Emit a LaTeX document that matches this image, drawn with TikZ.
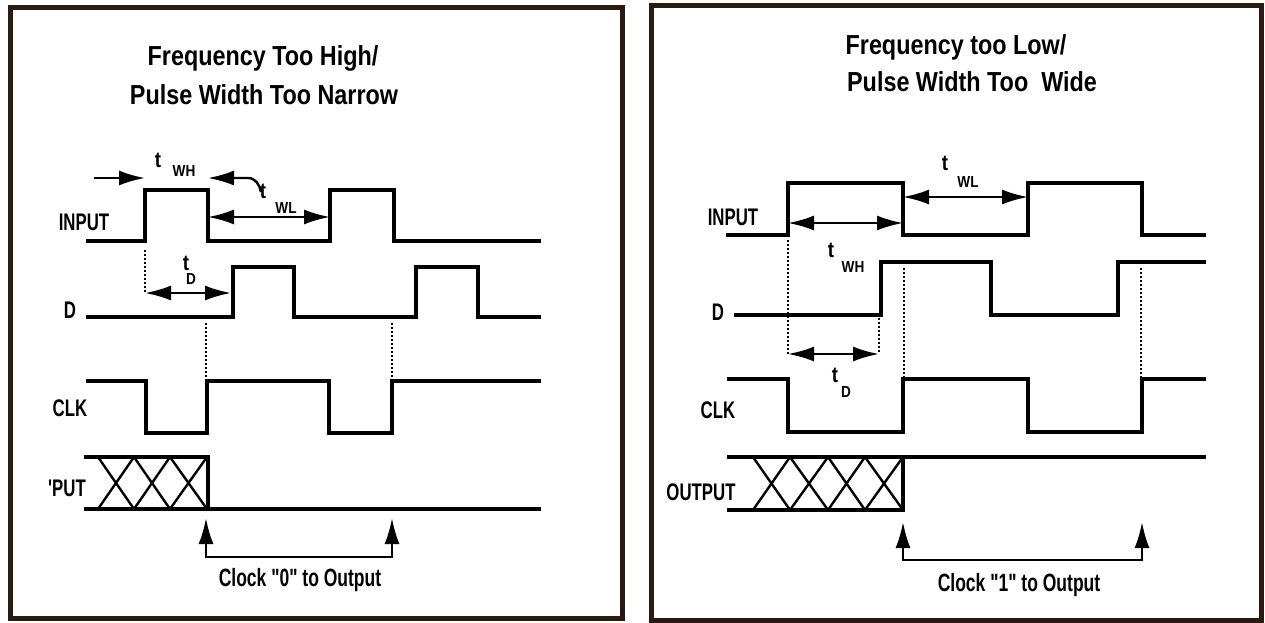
\documentclass[tikz,border=0pt]{standalone}
\usepackage{fontspec}
\usepackage{xcolor}
\usetikzlibrary{arrows.meta}
\newfontfamily\handfont[FakeStretch=0.85]{Liberation Sans}
\newfontfamily\narrowfont[FakeStretch=0.7]{Liberation Sans}
\definecolor{framebrown}{HTML}{2A1A12}
\tikzset{
  panel/.style={draw=framebrown,line width=5pt},
  wave/.style={line width=3.4pt,line join=miter},
  hatch/.style={line width=2.4pt},
  guide/.style={line width=1.6pt,dash pattern=on 1.5pt off 2.5pt},
  dimarrow/.style={line width=2.4pt,{Latex[length=26pt,width=15pt]}-{Latex[length=26pt,width=15pt]}},
  onearrow/.style={line width=2.4pt,-{Latex[length=26pt,width=15pt]}},
  title/.style={font=\handfont\bfseries\fontsize{27.5}{27.5}\selectfont},
  siglabel/.style={font=\narrowfont\bfseries\fontsize{24}{24}\selectfont},
  clocklabel/.style={font=\narrowfont\bfseries\fontsize{25}{25}\selectfont},
  tlabel/.style={font=\handfont\bfseries\fontsize{22}{22}\selectfont,inner sep=0pt},
  sublabel/.style={font=\handfont\bfseries\fontsize{16}{16}\selectfont,inner sep=0pt},
}
\begin{document}
\begin{tikzpicture}[x=1pt,y=-1pt]
  \useasboundingbox (0,0) rectangle (1265,622);
  % left panel: frequency too high
  \draw[panel] (10,7) rectangle (622,618);
  \node[title] (lt1) at (263,58) {Frequency Too High/};
  \node[title] (lt2) at (264,95) {Pulse Width Too Narrow};
  \node[siglabel] (lin) at (84,222) {INPUT};
  \node[siglabel] (ld) at (70,310) {D};
  \node[siglabel] (lclk) at (70,408) {CLK};
  \node[siglabel] (lout) at (67,488) {'PUT};
  \draw[wave] (86,241) -- (145,241) -- (145,190) -- (208,190) -- (208,241) -- (330,241)
     -- (330,190) -- (394,190) -- (394,241) -- (541,241);
  \draw[wave] (86,317) -- (233,317) -- (233,267) -- (294,267) -- (294,317) -- (416,317)
     -- (416,267) -- (478,267) -- (478,317) -- (541,317);
  \draw[wave] (86,381) -- (146,381) -- (146,433) -- (207,433) -- (207,381) -- (329,381)
     -- (329,433) -- (392,433) -- (392,381) -- (541,381);
  \draw[wave] (84,457) -- (208,457) -- (208,509);
  \draw[wave] (84,509) -- (541,509);
  \foreach \a/\b in {98/134,134/170,170/207}
    \draw[hatch] (\a,457) -- (\b,509) (\b,457) -- (\a,509);
  % timing marks, left
  \coordinate (lwh1) at (94,178);
  \coordinate (lwh2) at (145,178);
  \coordinate (lwl0) at (261,192);
  \coordinate (lwl1) at (208,178);
  \coordinate (lwl2) at (208,217);
  \coordinate (lwl3) at (330,217);
  \coordinate (lp0) at (145,250);
  \coordinate (lp1) at (145,293);
  \coordinate (lp2) at (231,293);
  \draw[onearrow] (lwh1) -- (lwh2);
  \draw[onearrow] (lwl0) to[out=100,in=0] (248,178) -- (lwl1);
  \draw[dimarrow] (lwl2) -- (lwl3);
  \draw[guide] (lp0) -- (lp1);
  \draw[dimarrow] (lp1) -- (lp2);
  \node[tlabel] (ltwh) at (158,160) {t};
  \node[sublabel] (ltwhs) at (184,171) {WH};
  \node[tlabel] (ltwl) at (263,191) {t};
  \node[sublabel] (ltwls) at (286,208) {WL};
  \node[tlabel] (ltp) at (186,263) {t};
  \node[sublabel] (ltps) at (191,279) {D};
  \draw[guide] (206,323) -- (206,380);
  \draw[guide] (392,323) -- (392,380);
  \coordinate (lc1) at (206,518);
  \coordinate (lc2) at (392,518);
  \draw[dimarrow] (lc1) -- (206,557) -- (392,557) -- (lc2);
  \node[clocklabel] (lclock) at (300,580) {Clock "0" to Output};
  % right panel: frequency too low
  \draw[panel] (651,5) rectangle (1261,620);
  \node[title] (rt1) at (956,47) {Frequency too Low/};
  \node[title] (rt2) at (972,82) {Pulse Width Too~~Wide};
  \node[siglabel] (rin) at (733,217) {INPUT};
  \node[siglabel] (rd) at (718,312) {D};
  \node[siglabel] (rclk) at (718,410) {CLK};
  \node[siglabel] (rout) at (701,492) {OUTPUT};
  \draw[wave] (726,235) -- (788,235) -- (788,183) -- (903,183) -- (903,235) -- (1028,235)
     -- (1028,183) -- (1142,183) -- (1142,235) -- (1206,235);
  \draw[wave] (734,315) -- (881,315) -- (881,262) -- (991,262) -- (991,315) -- (1118,315)
     -- (1118,262) -- (1206,262);
  \draw[wave] (727,379) -- (788,379) -- (788,432) -- (903,432) -- (903,379) -- (1028,379)
     -- (1028,432) -- (1142,432) -- (1142,379) -- (1206,379);
  \draw[wave] (727,457) -- (1206,457);
  \draw[wave] (727,510) -- (903,510) -- (903,457);
  \foreach \a/\b in {753/790,790/828,828/865,865/903}
    \draw[hatch] (\a,457) -- (\b,510) (\b,457) -- (\a,510);
  % timing marks, right
  \coordinate (rwl1) at (903,197);
  \coordinate (rwl2) at (1028,197);
  \coordinate (rwh1) at (788,223);
  \coordinate (rwh2) at (903,223);
  \coordinate (rp1) at (788,354);
  \coordinate (rp2) at (879,354);
  \draw[dimarrow] (rwl1) -- (rwl2);
  \draw[dimarrow] (rwh1) -- (rwh2);
  \draw[guide] (788,240) -- (rp1);
  \draw[guide] (879,318) -- (rp2);
  \draw[dimarrow] (rp1) -- (rp2);
  \draw[guide] (904,268) -- (904,377);
  \draw[guide] (1141,268) -- (1141,377);
  \node[tlabel] (rtwl) at (945,163) {t};
  \node[sublabel] (rtwls) at (968,182) {WL};
  \node[tlabel] (rtwh) at (831,250) {t};
  \node[sublabel] (rtwhs) at (853,267) {WH};
  \node[tlabel] (rtp) at (835,375) {t};
  \node[sublabel] (rtps) at (846,392) {D};
  \coordinate (rc1) at (903,522);
  \coordinate (rc2) at (1142,522);
  \draw[dimarrow] (rc1) -- (903,560) -- (1142,560) -- (rc2);
  \node[clocklabel] (rclock) at (1019,585) {Clock "1" to Output};
\end{tikzpicture}
\end{document}
